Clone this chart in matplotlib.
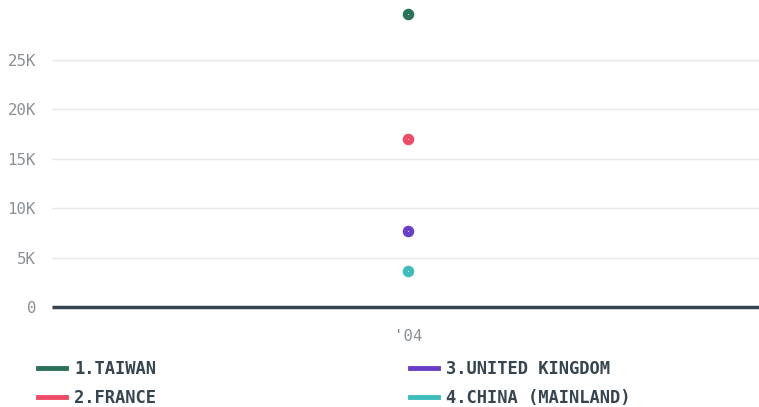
import matplotlib.pyplot as plt
from matplotlib.lines import Line2D

categories = ["'04"]
series = ["1.TAIWAN", "2.FRANCE", "3.UNITED KINGDOM", "4.CHINA (MAINLAND)"]
values = [29700, 17000, 7700, 3650]
colors = ["#2b7358", "#ef4b66", "#6a3fc8", "#3fbcbc"]
yticks = [0, 5000, 10000, 15000, 20000, 25000]
ytick_labels = ["0", "5K", "10K", "15K", "20K", "25K"]

font = "DejaVu Sans Mono"
fig = plt.figure(figsize=(7.59, 4.07), dpi=100)
ax = fig.add_axes([0.0685, 0.2457, 0.938, 0.7283])

for name, v, c in zip(series, values, colors):
    ax.plot([0], [v], marker="o", ms=7.3, color=c, mec=c, ls="none", zorder=3, clip_on=False)
    ax.plot([0], [v], marker="o", ms=0.6, color="white", mew=0, ls="none", zorder=4, clip_on=False)

ax.set_xlim(-0.5, 0.5)
ax.set_ylim(0, 30000)
ax.set_xticks([0])
ax.set_xticklabels(categories, family=font, fontsize=11.3, color="#8a9196")
ax.set_yticks(yticks)
ax.set_yticklabels(ytick_labels, family=font, fontsize=11.3, color="#8a9196")
ax.tick_params(length=0)
ax.tick_params(axis="y", pad=11.5)
ax.tick_params(axis="x", pad=15.5)
ax.grid(axis="y", color="#e9e9e9", lw=1)
ax.set_axisbelow(True)
for s in ax.spines.values():
    s.set_visible(False)
ax.axhline(0, color="#36454f", lw=2.5, zorder=2, clip_on=False, solid_capstyle="butt")

prop = {"family": font, "weight": "bold", "size": 12.3}
for col, x0 in enumerate([38 / 759, 410 / 759]):
    hs = [Line2D([0], [0], color=c, lw=3.5) for c in colors[col * 2:col * 2 + 2]]
    leg = fig.legend(hs, series[col * 2:col * 2 + 2], loc="upper left",
                     bbox_to_anchor=(x0, 1 - 360 / 407), frameon=False,
                     borderpad=0, borderaxespad=0, handlelength=1.63,
                     handletextpad=0.47, labelspacing=0.62, prop=prop)
    for t in leg.get_texts():
        t.set_color("#36454f")

fig.savefig("out.png", dpi=100)
